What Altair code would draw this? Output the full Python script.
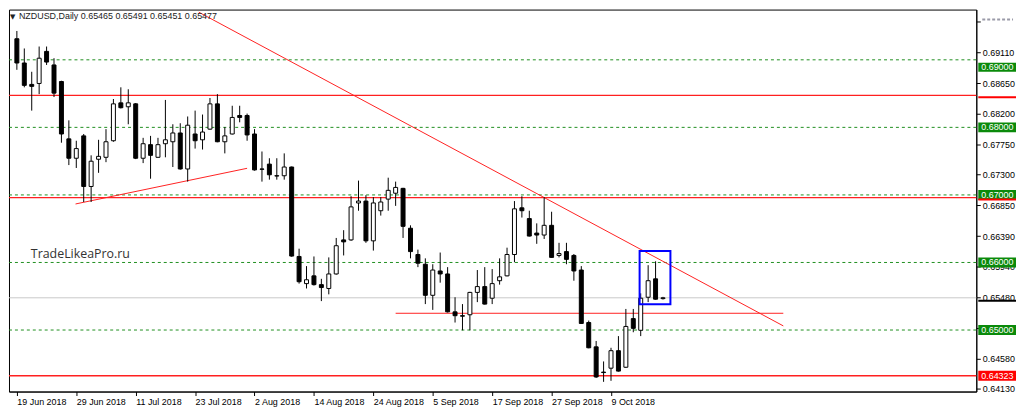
import json
import altair as alt
import pandas as pd

# ---------------- data ----------------
OPEN = [0.69312, 0.68953, 0.68636, 0.68650, 0.69125, 0.68924, 0.68679, 0.67830, 0.67543, 0.67874,
        0.67125, 0.67528, 0.67557, 0.67802, 0.68363, 0.68305, 0.68348, 0.67543, 0.67744, 0.67557,
        0.67758, 0.67787, 0.67917, 0.67384, 0.67902, 0.67816, 0.67974, 0.68348, 0.67787, 0.67902,
        0.68176, 0.68176, 0.67902, 0.67384, 0.67456, 0.67284, 0.67284, 0.67413, 0.66089, 0.65687,
        0.65802, 0.65672, 0.65615, 0.65830, 0.66334, 0.66334, 0.66881, 0.66909, 0.66320, 0.66766,
        0.66938, 0.67025, 0.67097, 0.66507, 0.66118, 0.65974, 0.65514, 0.65874, 0.65830, 0.65269,
        0.65212, 0.65226, 0.65557, 0.65643, 0.65471, 0.65730, 0.65802, 0.66118, 0.66809, 0.66650,
        0.66435, 0.66406, 0.66550, 0.66104, 0.66161, 0.66104, 0.65888, 0.65111, 0.64751, 0.64377,
        0.64435, 0.64694, 0.64449, 0.65169, 0.64996, 0.65485, 0.65758, 0.65465]
HIGH = [0.69427, 0.69168, 0.68823, 0.69197, 0.69197, 0.69024, 0.68690, 0.68104, 0.67802, 0.67902,
        0.67586, 0.67816, 0.67974, 0.68420, 0.68593, 0.68564, 0.68360, 0.67845, 0.67874, 0.67845,
        0.68406, 0.68046, 0.68061, 0.68161, 0.68248, 0.68190, 0.68435, 0.68492, 0.68003, 0.68320,
        0.68320, 0.68204, 0.67974, 0.67643, 0.67543, 0.67543, 0.67615, 0.67420, 0.66204, 0.65946,
        0.66089, 0.65758, 0.66075, 0.66363, 0.66478, 0.66981, 0.67212, 0.66996, 0.66967, 0.66967,
        0.67255, 0.67197, 0.67105, 0.66550, 0.66190, 0.66061, 0.65974, 0.66147, 0.65931, 0.65485,
        0.65384, 0.65565, 0.65888, 0.65931, 0.65902, 0.66061, 0.66219, 0.66909, 0.66981, 0.66766,
        0.66579, 0.66967, 0.66751, 0.66291, 0.66291, 0.66125, 0.65946, 0.65140, 0.64838, 0.64535,
        0.64737, 0.64910, 0.65312, 0.65312, 0.65543, 0.65960, 0.66017, 0.65491]
LOW = [0.68852, 0.68593, 0.68248, 0.68492, 0.68924, 0.68449, 0.67773, 0.67442, 0.67399, 0.66895,
       0.66895, 0.67327, 0.67485, 0.67787, 0.68280, 0.68046, 0.67530, 0.67471, 0.67240, 0.67550,
       0.67557, 0.67413, 0.67375, 0.67197, 0.67686, 0.67672, 0.67965, 0.67780, 0.67615, 0.67895,
       0.68075, 0.67802, 0.67360, 0.67197, 0.67226, 0.67226, 0.67226, 0.66085, 0.65687, 0.65615,
       0.65658, 0.65428, 0.65528, 0.65820, 0.66104, 0.66320, 0.66766, 0.66291, 0.66176, 0.66694,
       0.66766, 0.66838, 0.66363, 0.66061, 0.65931, 0.65384, 0.65298, 0.65701, 0.65260, 0.65111,
       0.64996, 0.64996, 0.65413, 0.65378, 0.65384, 0.65672, 0.65795, 0.66003, 0.66665, 0.66385,
       0.66276, 0.66348, 0.66070, 0.66075, 0.65974, 0.65730, 0.65090, 0.64730, 0.64291, 0.64233,
       0.64248, 0.64385, 0.64440, 0.64967, 0.64910, 0.65413, 0.65450, 0.65451]
CLOSE = [0.68953, 0.68622, 0.68607, 0.69024, 0.68967, 0.68507, 0.67902, 0.67543, 0.67686, 0.67125,
         0.67499, 0.67571, 0.67787, 0.68348, 0.68291, 0.68363, 0.67543, 0.67758, 0.67586, 0.67744,
         0.67816, 0.67917, 0.67384, 0.68032, 0.67802, 0.67931, 0.68348, 0.67787, 0.67874, 0.68147,
         0.68147, 0.67888, 0.67370, 0.67380, 0.67298, 0.67280, 0.67413, 0.66095, 0.65715, 0.65744,
         0.65672, 0.65629, 0.65830, 0.66248, 0.66305, 0.66823, 0.66909, 0.66320, 0.66881, 0.66895,
         0.67068, 0.67111, 0.66535, 0.66161, 0.65989, 0.65514, 0.65888, 0.65830, 0.65269, 0.65212,
         0.65205, 0.65557, 0.65643, 0.65384, 0.65687, 0.65787, 0.66118, 0.66794, 0.66766, 0.66391,
         0.66406, 0.66550, 0.66075, 0.66132, 0.66046, 0.65874, 0.65097, 0.64737, 0.64305, 0.64370,
         0.64694, 0.64392, 0.65053, 0.65025, 0.65471, 0.65730, 0.65456, 0.65477]

DATE_TICKS = [0, 8, 16, 24, 32, 40, 48, 56, 64, 72, 80]
DATE_LABELS = ["19 Jun 2018", "29 Jun 2018", "11 Jul 2018", "23 Jul 2018", "2 Aug 2018",
               "14 Aug 2018", "24 Aug 2018", "5 Sep 2018", "17 Sep 2018", "27 Sep 2018", "9 Oct 2018"]
PRICE_TICKS = [0.6957, 0.6911, 0.6865, 0.6820, 0.6775, 0.6730, 0.6685, 0.6639, 0.6594,
               0.6548, 0.6503, 0.6458, 0.6413]

GREEN_LEVELS = [0.69, 0.68, 0.67, 0.66, 0.65]
RED_LEVELS = [0.68475, 0.6696, 0.64323]
RED_SIDE_LEVELS = [0.68475, 0.6696]
RED_BOX_LEVEL = [0.64323]
LAST_PRICE = 0.65477

# trend lines: start index/price -> end index/price
SEG_X1 = [24.5, 7.9, 51.0]
SEG_P1 = [0.69705, 0.66866, 0.65248]
SEG_X2 = [103.2, 31.0, 103.2]
SEG_P2 = [0.65061, 0.67394, 0.65248]

BOX_X = [83.85, 88.0]
BOX_P = [0.66171, 0.65380]

SYMBOL = "NZDUSD,Daily"
WATERMARK = "TradeLikeaPro.ru"

X_DOMAIN = [-0.393, 128.52]
Y_DOMAIN = [0.640892, 0.697439]

FONT = "Liberation Sans"

# ---------------- frames ----------------
candles = pd.DataFrame({"i": list(range(len(OPEN))), "open": OPEN, "high": HIGH,
                        "low": LOW, "close": CLOSE})
segs = pd.DataFrame({"x1": SEG_X1, "p1": SEG_P1, "x2": SEG_X2, "p2": SEG_P2})
box = pd.DataFrame({"x1": [BOX_X[0]], "x2": [BOX_X[1]], "p1": [BOX_P[0]], "p2": [BOX_P[1]]})
green = pd.DataFrame({"price": GREEN_LEVELS,
                      "label": [f"{v:.5f}" for v in GREEN_LEVELS]})
red = pd.DataFrame({"price": RED_LEVELS})
red_side = pd.DataFrame({"price": RED_SIDE_LEVELS})
red_box = pd.DataFrame({"price": RED_BOX_LEVEL, "label": [f"{v:.5f}" for v in RED_BOX_LEVEL]})
last = pd.DataFrame({"price": [LAST_PRICE]})
title_df = pd.DataFrame({"t": [f"{SYMBOL}  {OPEN[-1]:.5f} {HIGH[-1]:.5f} {LOW[-1]:.5f} {CLOSE[-1]:.5f}"]})
wm_df = pd.DataFrame({"t": [WATERMARK]})
tri_df = pd.DataFrame({"t": ["▼"]})

xs = alt.Scale(domain=X_DOMAIN, nice=False, zero=False)
ys = alt.Scale(domain=Y_DOMAIN, nice=False, zero=False)

label_expr_x = json.dumps(DATE_LABELS) + "[round(datum.value / 8)]"

x_axis = alt.Axis(values=DATE_TICKS, labelExpr=label_expr_x, tickSize=4, labelAlign="left",
                  labelPadding=2, labelFontSize=9, labelFont=FONT, labelColor="black",
                  tickColor="black", domainColor="black", grid=False, title=None,
                  labelOverlap=False, labelFlush=False)
y_axis = alt.Axis(orient="right", values=PRICE_TICKS,
                  labelExpr="datum.value > 0.695 ? '' : format(datum.value, '.5f')",
                  tickSize=4, labelPadding=2, labelFontSize=9, labelFont=FONT,
                  labelColor="black", tickColor="black", domainColor="black",
                  grid=False, title=None, labelOverlap=False, labelFlush=False)


def X(f):
    return alt.X(f, type="quantitative", scale=xs, axis=x_axis)


def Y(f):
    return alt.Y(f, type="quantitative", scale=ys, axis=y_axis)


green_lines = alt.Chart(green).mark_rule(color="#1f8f1f", strokeDash=[3, 3], strokeWidth=1).encode(
    y=Y("price"))
red_lines = alt.Chart(red).mark_rule(color="#ff2020", strokeWidth=1.3).encode(y=Y("price"))
last_line = alt.Chart(last).mark_rule(color="#c8c8c8", strokeWidth=1).encode(y=Y("price"))
seg_lines = alt.Chart(segs).mark_rule(color="#ff2020", strokeWidth=1).encode(
    x=X("x1"), x2="x2", y=Y("p1"), y2="p2")

wicks = alt.Chart(candles).mark_rule(color="black", strokeWidth=1).encode(
    x=X("i"), y=Y("low"), y2="high")
bodies = alt.Chart(candles).mark_bar(size=4, stroke="black", strokeWidth=1).encode(
    x=X("i"), y=Y("open"), y2="close",
    fill=alt.condition("datum.close >= datum.open", alt.value("white"), alt.value("black")))

blue_box = alt.Chart(box).mark_rect(fill=None, fillOpacity=0, stroke="#0000ff", strokeWidth=2).encode(
    x=X("x1"), x2="x2", y=Y("p1"), y2="p2")

# right side price labels (the top one sits a little below its line, as in the reference)
green_mid = alt.Chart(green).transform_filter("datum.price < 0.695 && datum.price != 0.69")
green_top = alt.Chart(green).transform_filter("datum.price == 0.69")

green_tags = green_mid.mark_rect(color="#0a8a0a", yOffset=-5, y2Offset=5).encode(
    x=alt.value(977), x2=alt.value(1015), y=Y("price"), y2="price")
green_text = green_mid.mark_text(align="left", baseline="middle", fontSize=9, font=FONT,
                                 color="white").encode(
    x=alt.value(980), y=Y("price"), text="label")
green_top_tag = green_top.mark_rect(color="#0a8a0a", yOffset=3, y2Offset=12).encode(
    x=alt.value(977), x2=alt.value(1015), y=Y("price"), y2="price")
green_top_text = green_top.mark_text(align="left", baseline="middle", fontSize=9, font=FONT,
                                     color="white", dy=7.5).encode(
    x=alt.value(980), y=Y("price"), text="label")
red_tags = alt.Chart(red_box).mark_rect(color="#ff0000", yOffset=-5, y2Offset=5).encode(
    x=alt.value(977), x2=alt.value(1015), y=Y("price"), y2="price")
red_text = alt.Chart(red_box).mark_text(align="left", baseline="middle", fontSize=9, font=FONT,
                                        color="white").encode(
    x=alt.value(980), y=Y("price"), text="label")
red_side_tags = alt.Chart(red_side).mark_rect(color="#ff0000", yOffset=1, y2Offset=3).encode(
    x=alt.value(977), x2=alt.value(1015), y=Y("price"), y2="price")
last_tag = alt.Chart(last).mark_rect(color="black", yOffset=2, y2Offset=4).encode(
    x=alt.value(977), x2=alt.value(1015), y=Y("price"), y2="price")
top_dash = alt.Chart(last).mark_rule(color="#9a9aa8", strokeDash=[3, 2], strokeWidth=2).encode(
    x=alt.value(981), x2=alt.value(1012), y=alt.value(10))

title_tri = alt.Chart(tri_df).mark_text(align="left", baseline="middle", fontSize=7,
                                         font="DejaVu Sans", color="#222").encode(
    x=alt.value(1), y=alt.value(7), text="t")
title_txt = alt.Chart(title_df).mark_text(align="left", baseline="middle", fontSize=9, font=FONT,
                                          color="#222").encode(
    x=alt.value(10), y=alt.value(7), text="t")
watermark = alt.Chart(wm_df).mark_text(align="left", baseline="middle", fontSize=12.5,
                                       font="Open Sans", color="#333").encode(
    x=alt.value(22), y=alt.value(246), text="t")

chart = alt.layer(
    last_line, green_lines, red_lines, seg_lines, wicks, bodies, blue_box,
    green_tags, green_text, green_top_tag, green_top_text, red_tags, red_text,
    red_side_tags, last_tag, top_dash,
    title_tri, title_txt, watermark,
).properties(width=975, height=385, padding=0, background="white").configure_view(
    stroke="black", strokeWidth=1)

chart.save("out.html", embed_options={"renderer": "svg", "actions": False})
